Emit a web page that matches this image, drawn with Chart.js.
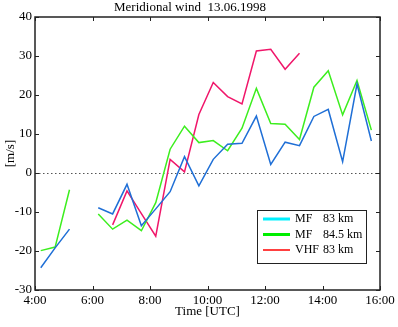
<!DOCTYPE html>
<html>
<head>
<meta charset="utf-8">
<script src="https://cdn.jsdelivr.net/npm/chart.js@4.4.1/dist/chart.umd.min.js"></script>
<style>
  html, body { margin: 0; padding: 0; background: #fff; }
  #wrap { width: 398px; height: 327px; }
</style>
</head>
<body>
<div id="wrap"><canvas id="windChart" width="398" height="327"></canvas></div>
<script>
// Tempos de medição (horas UTC)
const hours = [4.2, 4.7, 5.2, 5.7, 6.2, 6.7, 7.2, 7.7, 8.2, 8.7, 9.2, 9.7,
  10.2, 10.7, 11.2, 11.7, 12.2, 12.7, 13.2, 13.7, 14.2, 14.7, 15.2, 15.7];

// Vento meridional [m/s]
const mf83 = [-24.3, -19.2, -14.4, null, -8.9, -10.5, -2.9, -13.5, -9.2, -4.8, 4.2, -3.3,
  3.5, 7.4, 7.6, 14.6, 2.2, 7.9, 7.0, 14.5, 16.3, 2.9, 22.8, 8.2];
const mf845 = [-19.9, -19.0, -4.3, null, -10.5, -14.4, -12.1, -14.8, -7.6, 6.1, 12.0, 7.8,
  8.3, 5.7, 11.5, 21.7, 12.7, 12.5, 8.6, 22.0, 26.2, 14.9, 23.7, 11.0];
const vhf83 = [null, null, null, null, null, -13.3, -4.6, -10.4, -16.2, 3.5, 0.3, 15.0,
  23.2, 19.6, 17.7, 31.3, 31.7, 26.6, 30.7, null, null, null, null, null];

const seriesNames = ['MF   83 km', 'MF   84.5 km', 'VHF  83 km'];
const xTicks = [4, 6, 8, 10, 12, 14, 16];
const yTicks = [-30, -20, -10, 0, 10, 20, 30, 40];

const SERIF = '"Liberation Serif", "Times New Roman", serif';

// Montar pontos {x, y}
function toPoints(values) {
  return values.map((v, i) => ({ x: hours[i], y: v }));
}

// Linha zero pontilhada, moldura e marcas internas
const frameAndTicks = {
  id: 'frameAndTicks',
  beforeDatasetsDraw(chart) {
    const { ctx, chartArea: a, scales: { y } } = chart;
    const y0 = Math.round(y.getPixelForValue(0)) + 0.5;
    ctx.save();
    ctx.strokeStyle = '#555';
    ctx.lineWidth = 1;
    ctx.setLineDash([1.5, 2.5]);
    ctx.beginPath();
    ctx.moveTo(a.left, y0);
    ctx.lineTo(a.right, y0);
    ctx.stroke();
    ctx.restore();
  },
  afterDatasetsDraw(chart) {
    const { ctx, chartArea: a, scales: { x, y } } = chart;
    ctx.save();
    ctx.strokeStyle = '#222';
    ctx.lineWidth = 1.5;
    ctx.strokeRect(a.left, a.top, a.right - a.left, a.bottom - a.top);
    ctx.lineWidth = 1;
    ctx.beginPath();
    xTicks.forEach(t => {
      const px = Math.round(x.getPixelForValue(t)) + 0.5;
      ctx.moveTo(px, a.bottom); ctx.lineTo(px, a.bottom - 4);
      ctx.moveTo(px, a.top); ctx.lineTo(px, a.top + 4);
    });
    yTicks.forEach(t => {
      const py = Math.round(y.getPixelForValue(t)) + 0.5;
      ctx.moveTo(a.left, py); ctx.lineTo(a.left + 4, py);
      ctx.moveTo(a.right, py); ctx.lineTo(a.right - 4, py);
    });
    ctx.stroke();
    ctx.restore();
  },
  afterDraw(chart) {
    // Legenda própria dentro da área do gráfico
    const { ctx } = chart;
    const colors = ['#00f0ff', '#00ee00', '#ff0000'];
    const widths = [3, 3, 1.5];
    const bx = 257, by = 210, bw = 109, bh = 53;
    ctx.save();
    ctx.fillStyle = '#fff';
    ctx.fillRect(bx, by, bw, bh);
    ctx.strokeStyle = '#222';
    ctx.lineWidth = 1;
    ctx.strokeRect(bx + 0.5, by + 0.5, bw, bh);
    ctx.font = '12px ' + SERIF;
    ctx.textBaseline = 'middle';
    ctx.fillStyle = '#000';
    seriesNames.forEach((name, i) => {
      const ry = by + 9 + i * 15.5;
      ctx.strokeStyle = colors[i];
      ctx.lineWidth = widths[i];
      ctx.beginPath();
      ctx.moveTo(263, ry);
      ctx.lineTo(290, ry);
      ctx.stroke();
      const parts = name.split(/\s+/);
      ctx.fillText(parts[0], 295, ry);
      ctx.fillText(parts.slice(1).join(' '), 323, ry);
    });
    ctx.restore();
  }
};

const lineStyle = {
  borderWidth: 1.5,
  pointRadius: 0,
  tension: 0,
  fill: false,
  spanGaps: false
};

const config = {
  type: 'line',
  data: {
    datasets: [
      { label: seriesNames[0], data: toPoints(mf83), borderColor: '#1f6fd6', ...lineStyle },
      { label: seriesNames[1], data: toPoints(mf845), borderColor: '#3cee1e', ...lineStyle },
      { label: seriesNames[2], data: toPoints(vhf83), borderColor: '#f0166a', ...lineStyle }
    ]
  },
  options: {
    responsive: false,
    animation: false,
    layout: { padding: { left: 0, right: 18, top: 0, bottom: 0 } },
    plugins: {
      legend: { display: false },
      tooltip: { enabled: false },
      title: {
        display: true,
        text: 'Meridional wind  13.06.1998',
        color: '#000',
        font: { family: SERIF, size: 13, weight: 'normal' },
        padding: { top: 0, bottom: 1.4 }
      }
    },
    scales: {
      x: {
        type: 'linear',
        min: 4,
        max: 16,
        afterFit(scale) { scale.height = 37; },
        afterBuildTicks(scale) { scale.ticks = xTicks.map(v => ({ value: v })); },
        grid: { display: false, drawTicks: false },
        border: { display: false },
        ticks: {
          color: '#000',
          padding: 3,
          maxRotation: 0,
          font: { family: SERIF, size: 13 },
          callback: v => v + ':00'
        },
        title: {
          display: true,
          text: 'Time [UTC]',
          color: '#000',
          font: { family: SERIF, size: 13 },
          padding: { top: 0, bottom: 8 }
        }
      },
      y: {
        min: -30,
        max: 40,
        afterFit(scale) { scale.width = 35; },
        afterBuildTicks(scale) { scale.ticks = yTicks.map(v => ({ value: v })); },
        grid: { display: false, drawTicks: false },
        border: { display: false },
        ticks: {
          color: '#000',
          padding: 3,
          font: { family: SERIF, size: 13 }
        },
        title: {
          display: true,
          text: '[m/s]',
          color: '#000',
          font: { family: SERIF, size: 13 },
          padding: { top: 3, bottom: 0 }
        }
      }
    }
  },
  plugins: [frameAndTicks]
};

new Chart(document.getElementById('windChart').getContext('2d'), config);
</script>
</body>
</html>
